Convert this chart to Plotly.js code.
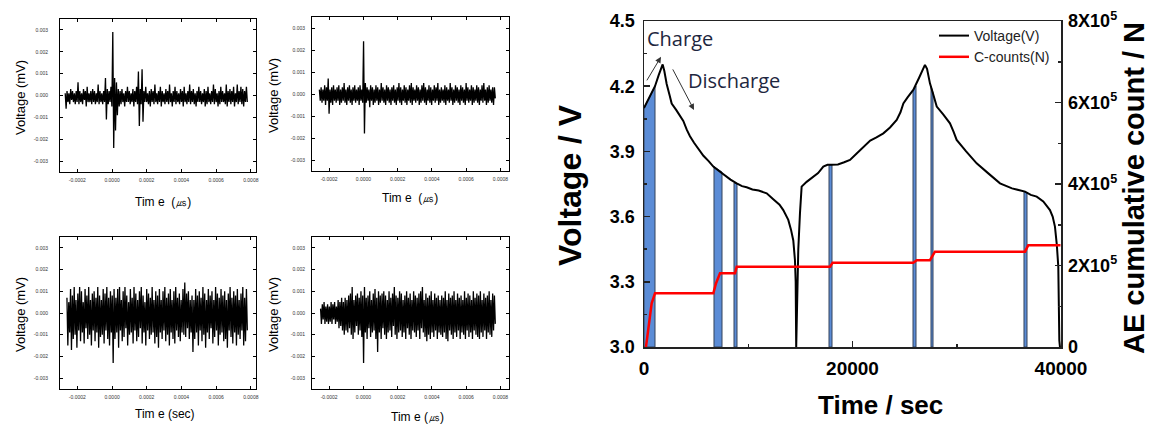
<!DOCTYPE html>
<html><head><meta charset="utf-8">
<script src="https://cdn.plot.ly/plotly-3.0.1.min.js"></script>
<style>html,body{margin:0;padding:0;background:#fff}#chart{width:1149px;height:426px}</style>
</head><body><div id="chart"></div>
<script>
// ---------- Small AE waveform panels (values in units of 0.0001 mV) ----------
const SIG_UNIT = 0.0001;
const sig1Range = [-0.00027, 0.00078];
const sig1 = [1,-6,2,-3,1,-4,3,-2,2,-3, 1,-4,2,-3,6,-4,2,-3,1,-4,
  3,-2,2,-5,4,-3,1,-3,2,-4, 3,-3,2,-4,1,-3,5,-4,2,-3,
  1,-4,2,-3,8,-11,3,-4,2,-3, 4,-5,29,-24,8,-16,6,-9,3,-5,
  2,-4,3,-3,1,-5,2,-3,4,-3, 2,-4,1,-3,3,-5,2,-3,4,-4,
  11,-14,3,-4,12,-12,2,-3,4,-3, 1,-4,2,-5,3,-3,2,-4,5,-3,
  1,-4,2,-3,4,-5,2,-3,1,-4, 3,-3,2,-4,5,-3,1,-5,2,-3,
  4,-4,2,-3,1,-4,3,-3,2,-5, 4,-3,1,-4,2,-3,5,-4,2,-3,
  3,-4,1,-5,2,-3,4,-3,2,-4, 1,-3,3,-5,2,-4,4,-3,1,-4,
  2,-3,5,-4,3,-3,1,-5,2,-4, 4,-3,2,-3,1,-4,5,-5,2,-3,
  3,-4,2,-3,4,-5,1,-3,5,-4, 2,-3,4,-4,3,-5,2,-3,4,-3];
const sig2Range = [-0.000257, 0.00077];
const sig2 = [2,-3,3,-4,2,-3,4,-5,3,-3, 7,-9,2,-4,3,-5,4,-3,2,-4,
  3,-3,4,-5,2,-4,3,-3,5,-4, 2,-5,3,-3,4,-4,2,-5,3,-3,
  4,-4,2,-3,3,-5,4,-3,2,-4, 24,-18,5,-4,3,-3,2,-6,4,-3,
  3,-5,2,-4,4,-3,3,-5,2,-4, 5,-3,3,-4,2,-5,4,-3,3,-4,
  2,-5,3,-3,4,-4,2,-5,3,-3, 5,-4,3,-5,2,-3,4,-4,3,-5,
  2,-3,4,-4,5,-5,3,-3,2,-4, 4,-3,3,-5,2,-4,4,-3,5,-4,
  3,-5,2,-3,4,-4,3,-5,2,-3, 4,-4,3,-3,5,-5,2,-4,3,-3,
  2,-4,4,-5,3,-3,2,-4,5,-3, 3,-5,2,-4,4,-3,3,-4,2,-5,
  4,-3,3,-4,2,-5,5,-3,3,-4, 2,-3,4,-5,3,-4,2,-3,4,-4,
  3,-5,2,-3,4,-4,5,-3,2,-5, 3,-4,4,-3,2,-4,3,-5,3,-2];
const sig3Range = [-0.00026, 0.00078];
const sig3 = [7,-15,5,-9,11,-17,8,-12,12,-10, 6,-16,9,-8,12,-13,10,-9,5,-14,
  11,-7,8,-12,12,-10,6,-15,9,-8, 10,-13,7,-9,12,-16,8,-11,6,-10,
  11,-14,9,-8,12,-12,7,-15,10,-9, 8,-23,11,-12,7,-9,11,-16,12,-8,
  6,-13,10,-11,12,-7,8,-15,5,-10, 11,-9,7,-14,12,-8,9,-13,6,-11,
  10,-7,12,-14,8,-9,5,-15,11,-8, 9,-12,7,-10,12,-9,6,-14,10,-11,
  8,-16,11,-9,6,-12,10,-8,12,-13, 7,-10,9,-15,11,-9,6,-12,10,-14,
  12,-8,7,-11,9,-13,6,-9,11,-10, 14,-11,9,-7,10,-12,6,-9,8,-18,
  6,-12,11,-9,8,-15,10,-8,7,-13, 12,-10,9,-16,6,-9,11,-12,8,-7,
  10,-14,6,-11,12,-8,9,-15,7,-10, 11,-9,8,-13,10,-12,6,-16,9,-8,
  12,-11,7,-14,10,-9,8,-15,11,-10, 6,-12,9,-8,12,-15,7,-13,11,-8];
const sig4Range = [-0.00025, 0.00077];
const sig4 = [2,-5,4,-3,5,-5,3,-4,4,-5, 3,-4,5,-5,4,-3,5,-5,3,-4,
  6,-7,5,-6,7,-8,5,-10,7,-8, 6,-9,8,-7,9,-10,12,-12,6,-9,
  8,-6,9,-10,7,-8,10,-11,8,-23, 12,-9,7,-12,8,-7,10,-11,6,-9,
  9,-8,11,-12,7,-18,10,-9,8,-12, 9,-7,10,-10,8,-12,6,-9,10,-8,
  7,-11,9,-6,12,-10,8,-12,7,-9, 10,-8,9,-11,6,-9,8,-12,10,-7,
  7,-10,9,-12,6,-8,10,-9,8,-11, 7,-8,9,-12,10,-7,12,-9,6,-11,
  9,-13,7,-10,8,-12,10,-9,6,-11, 9,-8,7,-12,8,-9,6,-10,8,-11,
  7,-9,10,-12,6,-13,9,-8,7,-10, 8,-12,10,-9,6,-11,9,-8,7,-12,
  8,-9,6,-10,10,-12,7,-8,9,-11, 8,-9,6,-12,10,-8,7,-10,9,-11,
  8,-12,10,-9,6,-11,9,-8,7,-12, 8,-9,10,-10,6,-11,9,-8,8,-5];
const smallXTicks = [-0.0002, 0, 0.0002, 0.0004, 0.0006, 0.0008];
const smallXLabels = ['-0.0002','0.0000','0.0002','0.0004','0.0006','0.0008'];
const smallYTicks = [0.003, 0.002, 0.001, 0, -0.001, -0.002, -0.003];
const smallYLabels = ['0.003','0.002','0.001','0.000','-0.001','-0.002','-0.003'];

// ---------- Main chart ----------
const voltT = [0,300,700,1055,1400,1790,1950,2175,2450,2655,3100,3500,3770,4100,4410,4800,5210,5700,6200,6650,
  7200,7700,8300,8890,9400,9850,10400,11000,11770,12400,13000,13360,13600,13840,14100,14320,14480,14550,14600,14700,
  14800,14960,15120,15600,16240,16700,17200,17600,18000,18600,19200,19760,20400,21040,21700,22300,22960,23600,24240,24600,
  24880,25300,25830,26400,26950,27150,27430,27700,28080,28700,29350,29700,29990,30900,31910,33000,34150,35300,36550,37100,
  37670,38300,38940,39200,39420,39600,39740,39840,39900];
const voltV = [4.10,4.13,4.17,4.20,4.25,4.30,4.27,4.21,4.16,4.12,4.09,4.06,4.04,4.00,3.97,3.94,3.91,3.88,3.855,3.83,
  3.81,3.79,3.77,3.753,3.74,3.735,3.725,3.72,3.707,3.68,3.655,3.63,3.61,3.585,3.54,3.49,3.40,3.30,3.0,3.30,
  3.45,3.615,3.738,3.76,3.784,3.80,3.83,3.838,3.838,3.84,3.85,3.861,3.89,3.922,3.95,3.965,3.983,4.01,4.045,4.08,
  4.121,4.15,4.183,4.24,4.298,4.28,4.213,4.17,4.106,4.07,4.029,3.99,3.953,3.90,3.845,3.80,3.753,3.73,3.715,3.70,
  3.692,3.67,3.63,3.60,3.554,3.47,3.37,3.03,3.0];
const countT = [190,415,735,1055,6650,6905,7290,8730,8890,17840,18100,25830,26160,27430,27910,36550,36860,39950];
const countN = [0,50000,107000,132000,132000,156000,181000,181000,197000,197000,207000,207000,213000,213000,234000,234000,250000,250000];
// AE-active intervals (blue bands): start/end time and voltage at the edges
const bandStart = [0, 6714, 8633, 17746, 25803, 27530, 36450];
const bandEnd   = [1055, 7482, 8921, 18034, 26091, 27722, 36740];
const bandVStart = [4.10, 3.83, 3.755, 3.838, 4.18, 4.20, 3.715];
const bandVEnd   = [4.20, 3.805, 3.75, 3.838, 4.20, 4.17, 3.71];
const rightTickVals = [0, 200000, 400000, 600000, 800000];
const rightTickText = ['0','2X10<sup>5</sup>','4X10<sup>5</sup>','6X10<sup>5</sup>','8X10<sup>5</sup>'];

const W = 1149, H = 426;
const px = v => v / W, py = v => 1 - v / H;
const AR = 'Arial, "Liberation Sans", sans-serif';

const traces = [];
function sigTrace(vals, rng, xa, ya) {
  const n = vals.length, dt = (rng[1] - rng[0]) / (n - 1);
  traces.push({type:'scatter', mode:'lines', x: vals.map((_, i) => rng[0] + i * dt),
    y: vals.map(v => v * SIG_UNIT), xaxis: xa, yaxis: ya, showlegend:false,
    line:{color:'#000', width:1.3}, hoverinfo:'skip'});
}
sigTrace(sig1, sig1Range, 'x3', 'y3');
sigTrace(sig2, sig2Range, 'x4', 'y4');
sigTrace(sig3, sig3Range, 'x5', 'y5');
sigTrace(sig4, sig4Range, 'x6', 'y6');

for (let i = 0; i < bandStart.length; i++) {
  traces.push({type:'scatter', mode:'lines', x:[bandStart[i], bandStart[i], bandEnd[i], bandEnd[i], bandStart[i]],
    y:[3.0, bandVStart[i], bandVEnd[i], 3.0, 3.0], fill:'toself', fillcolor:'#5b8cd6',
    line:{color:'#34425a', width:1}, xaxis:'x', yaxis:'y', showlegend:false, hoverinfo:'skip'});
}
traces.push({type:'scatter', mode:'lines', name:'Voltage(V)', x: voltT, y: voltV, xaxis:'x', yaxis:'y',
  line:{color:'#000', width:2}});
traces.push({type:'scatter', mode:'lines', name:'C-counts(N)', x: countT, y: countN, xaxis:'x', yaxis:'y2',
  line:{color:'#ff0000', width:2.5}});

function smallX(dom, rng, anchor) {
  return {domain: dom, range: rng, anchor: anchor, tickvals: smallXTicks, ticktext: smallXLabels,
    ticks:'inside', ticklen:3, tickcolor:'#000', mirror:'ticks', showline:true, linecolor:'#000', linewidth:1,
    showgrid:false, zeroline:false, tickfont:{family:AR, size:5, color:'#333'}, ticklabelstandoff:3, fixedrange:true};
}
function smallY(dom, anchor, standoff) {
  return {domain: dom, range:[-0.0035, 0.0035], anchor: anchor, tickvals: smallYTicks, ticktext: smallYLabels,
    ticks:'inside', ticklen:3, tickcolor:'#000', mirror:'ticks', showline:true, linecolor:'#000', linewidth:1,
    showgrid:false, zeroline:false, tickfont:{family:AR, size:5, color:'#333'}, ticklabelstandoff:standoff, fixedrange:true};
}

const ann = [];
function txt(x, y, text, size, opts) {
  ann.push(Object.assign({xref:'paper', yref:'paper', x: px(x), y: py(y), text: text, showarrow:false,
    xanchor:'center', yanchor:'middle', font:{family:AR, size:size, color:'#000'}}, opts || {}));
}
// small panel titles
txt(20, 98, 'Voltage (mV)', 13, {textangle:-90});
txt(273, 96, 'Voltage (mV)', 13, {textangle:-90});
txt(20, 315, 'Voltage (mV)', 13, {textangle:-90});
txt(273, 315, 'Voltage (mV)', 13, {textangle:-90});
txt(163, 202, 'Tim e  (㎲)', 12);
txt(410, 198, 'Tim e  (㎲)', 12);
txt(165, 414, 'Tim e (sec)', 12);
txt(417, 417, 'Tim e (㎲)', 12);
// main titles
txt(570, 185, '<b>Voltage / V</b>', 32, {textangle:-90});
txt(880, 405, '<b>Time / sec</b>', 26);
txt(1134, 188, '<b>AE cumulative count / N</b>', 29, {textangle:-90});
// annotations in the main plot
const annFont = {family:'"Open Sans", "Noto Sans", sans-serif', size:20, color:'#1e2740'};
ann.push({xref:'paper', yref:'paper', x: px(645), y: py(39), text:'Charge', showarrow:false, xanchor:'left', yanchor:'middle', font:annFont});
ann.push({xref:'paper', yref:'paper', x: px(686), y: py(80), text:'Discharge', showarrow:false, xanchor:'left', yanchor:'middle', font:annFont});
ann.push({xref:'x', yref:'y', x:1630, y:4.335, ax:-15, ay:25, text:'', showarrow:true, arrowhead:2, arrowsize:1.2, arrowwidth:1, arrowcolor:'#333'});
ann.push({xref:'x', yref:'y', x:4796, y:4.091, ax:-22, ay:-42, text:'', showarrow:true, arrowhead:2, arrowsize:1.2, arrowwidth:1, arrowcolor:'#333'});

const boldTick = {family:AR, size:18, color:'#000', weight:'bold'};
const layout = {
  width: W, height: H, margin:{l:0, r:0, t:0, b:0}, paper_bgcolor:'#fff', plot_bgcolor:'#fff',
  showlegend: true,
  legend:{x: px(934), y: py(20), xanchor:'left', yanchor:'top', bgcolor:'rgba(0,0,0,0)',
    font:{family:AR, size:14, color:'#222'}, tracegroupgap:0, itemwidth:30},
  xaxis:{domain:[px(644), px(1061)], range:[0, 40000], anchor:'y', dtick:20000, tick0:0, tickformat:'d',
    ticks:'inside', ticklen:6, tickwidth:1.5, tickcolor:'#222', minor:{dtick:10000, ticks:'inside', ticklen:3, tickcolor:'#222'},
    showline:true, mirror:true, linecolor:'#222', linewidth:1.5, showgrid:false, zeroline:false,
    tickfont: {family:AR, size:19, color:'#000', weight:'bold'}, ticklabelstandoff:4, fixedrange:true},
  yaxis:{domain:[py(347), py(21)], range:[3.0, 4.5], anchor:'x', dtick:0.3, tick0:3.0, tickformat:'.1f',
    ticks:'inside', ticklen:6, tickwidth:1.5, tickcolor:'#222', minor:{dtick:0.15, ticks:'inside', ticklen:3, tickcolor:'#222'},
    showline:true, linecolor:'#222', linewidth:1.5, showgrid:false, zeroline:false,
    tickfont: boldTick, ticklabelstandoff:4, fixedrange:true},
  yaxis2:{overlaying:'y', side:'right', anchor:'x', range:[0, 800000], tickvals: rightTickVals, ticktext: rightTickText,
    ticks:'inside', ticklen:6, tickwidth:1.5, tickcolor:'#222', minor:{dtick:100000, ticks:'inside', ticklen:3, tickcolor:'#222'},
    showline:true, linecolor:'#222', linewidth:1.5, showgrid:false, zeroline:false,
    tickfont: boldTick, ticklabelstandoff:2, fixedrange:true},
  xaxis3: smallX([px(60), px(256)], [-0.0003, 0.00083], 'y3'),
  yaxis3: smallY([py(172), py(19)], 'x3', 10),
  xaxis4: smallX([px(312), px(509)], [-0.0003, 0.00085], 'y4'),
  yaxis4: smallY([py(171), py(17)], 'x4', 5),
  xaxis5: smallX([px(60), px(256)], [-0.0003, 0.00083], 'y5'),
  yaxis5: smallY([py(389), py(237)], 'x5', 10),
  xaxis6: smallX([px(312), px(509)], [-0.0003, 0.00085], 'y6'),
  yaxis6: smallY([py(389), py(237)], 'x6', 5),
  annotations: ann
};
Plotly.newPlot('chart', traces, layout, {displayModeBar:false, staticPlot:true});
</script></body></html>
